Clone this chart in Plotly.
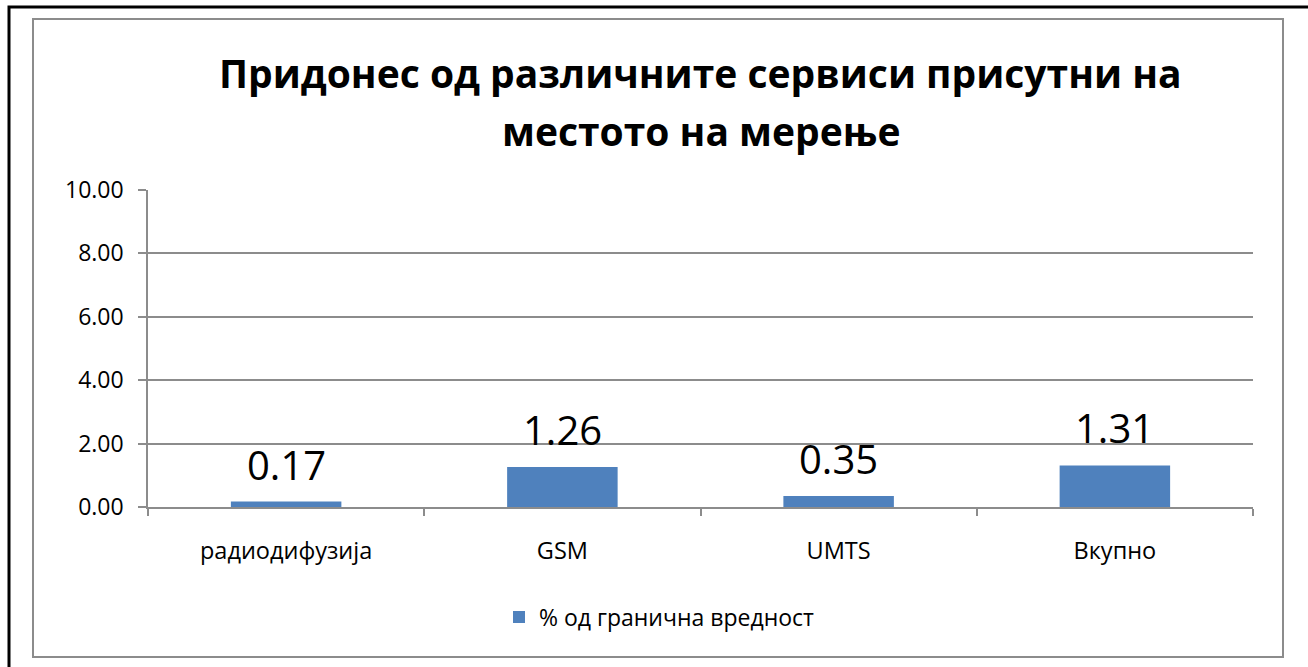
import plotly.graph_objects as go

# data
categories = ["радиодифузија", "GSM", "UMTS", "Вкупно"]
values = [0.17, 1.26, 0.35, 1.31]
series_name = "% од гранична вредност"
title_lines = ["Придонес од различните сервиси присутни на", "местото на мерење"]

W, H = 1308, 667
# plot area in pixels
L, R, T, B = 148, 1253, 190, 507
FONT = "Open Sans"
BLUE = "#4F81BD"
GRID = "#8C8C8C"


def px_x(x):
    return (x - L) / (R - L)


def px_y(y):
    return (B - y) / (B - T)


fig = go.Figure()
fig.add_trace(go.Bar(x=categories, y=values, name=series_name,
                     marker=dict(color=BLUE, line=dict(width=0)),
                     showlegend=True))

# data labels above the bars
for c, v in zip(categories, values):
    fig.add_annotation(x=c, y=v, text=f"{v:.2f}", showarrow=False,
                       yanchor="bottom", yshift=8,
                       font=dict(family=FONT, size=40, color="#000000"))

# two-line bold title
for line, ypix in zip(title_lines, [72, 130]):
    fig.add_annotation(xref="paper", yref="paper", x=0.5, y=px_y(ypix),
                       text=line, showarrow=False, yanchor="middle",
                       font=dict(family=FONT, size=39, color="#000000", weight="bold"))

# chart frame (gray) and outer page border (black)
fig.add_shape(type="rect", xref="paper", yref="paper",
              x0=px_x(33), x1=px_x(1283), y0=px_y(657), y1=px_y(19),
              line=dict(color="#8C8C8C", width=2), layer="below")
fig.add_shape(type="rect", xref="paper", yref="paper",
              x0=px_x(9), x1=px_x(1330), y0=px_y(690), y1=px_y(7),
              line=dict(color="#000000", width=3), layer="below")

fig.update_layout(
    width=W, height=H,
    margin=dict(l=L, r=W - R, t=T, b=H - B, pad=0),
    paper_bgcolor="white", plot_bgcolor="white",
    bargap=0.6,
    font=dict(family=FONT, color="#000000"),
    legend=dict(orientation="h", x=px_x(499), xanchor="left",
                y=px_y(617), yanchor="middle",
                font=dict(family=FONT, size=23, color="#000000")),
)
fig.update_xaxes(showgrid=False, showline=True, linecolor=GRID, linewidth=1.5,
                 ticks="outside", tickson="boundaries", ticklen=7,
                 tickcolor=GRID, tickwidth=1.5, ticklabelstandoff=22,
                 tickfont=dict(family=FONT, size=23.5, color="#000000"))
fig.update_yaxes(range=[0, 10], dtick=2, tickformat=".2f",
                 showgrid=True, gridcolor=GRID, gridwidth=1.5,
                 showline=True, linecolor=GRID, linewidth=1.5,
                 ticks="outside", ticklen=8, tickcolor=GRID, tickwidth=1.5,
                 ticklabelstandoff=10, zeroline=False,
                 tickfont=dict(family=FONT, size=23, color="#000000"))

# drop the default page margin so the figure sits at the window origin
fig.write_html("out.html", config={"displayModeBar": False},
               post_script="document.body.style.margin='0';")
